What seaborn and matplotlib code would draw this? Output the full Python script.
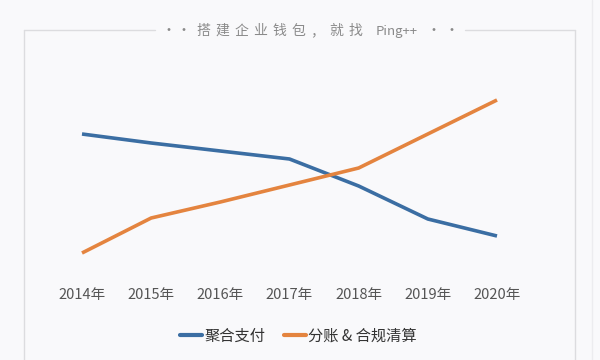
import matplotlib
matplotlib.use("Agg")
import matplotlib.pyplot as plt
import seaborn as sns
import pandas as pd
from matplotlib.lines import Line2D

# data (arbitrary units, axis hidden)
years = ["2014年", "2015年", "2016年", "2017年", "2018年", "2019年", "2020年"]
juhe = [126, 117, 109, 101, 74, 41, 24]
fenzhang = [7, 42, 58, 75, 92, 126, 160]
series_names = ["聚合支付", "分账 & 合规清算"]
colors = ["#3b6ea3", "#e4843f"]
title_parts = ["·", "·", "搭", "建", "企", "业", "钱", "包", "，", "就", "找", "Ping++", "·", "·"]

sns.set_theme(style="white")
plt.rcParams['font.family'] = ['Noto Sans CJK SC', 'DejaVu Sans']

df = pd.DataFrame({
    "year": years * 2,
    "value": juhe + fenzhang,
    "series": [series_names[0]] * len(years) + [series_names[1]] * len(years),
})
df["x"] = list(range(len(years))) * 2

bg = "#f9f9fb"
fig = plt.figure(figsize=(6, 3.6), dpi=100, facecolor=bg)
ax = fig.add_axes([82 / 600, 80 / 360, (497 - 82) / 600, 220 / 360])
ax.set_facecolor(bg)

sns.lineplot(data=df, x="x", y="value", hue="series", palette=colors,
             linewidth=2.6, ax=ax, legend=False, clip_on=False)
for l in ax.lines:
    l.set_solid_capstyle("butt")

ax.set_xlim(0, len(years) - 1)
ax.set_ylim(-20, 200)
ax.set_xticks(range(len(years)))
ax.set_xticklabels(years, fontsize=10.5, color="#555555")
ax.tick_params(axis="x", length=0, pad=6)
ax.set_yticks([])
ax.set_xlabel("")
ax.set_ylabel("")
sns.despine(ax=ax, left=True, bottom=True)

handles = [Line2D([0], [0], color=c, lw=3) for c in colors]
fig.legend(handles, series_names, loc="center", bbox_to_anchor=(0.497, 1 - 336 / 360),
           ncol=2, frameon=False, fontsize=11, handlelength=1.45,
           handletextpad=0.15, columnspacing=1.2, labelcolor="#333333")

# frame around the card
fc = "#dcdcdf"
fig.add_artist(Line2D([24 / 600, 155 / 600], [1 - 30 / 360] * 2, color=fc, lw=1))
fig.add_artist(Line2D([465 / 600, 575 / 600], [1 - 30 / 360] * 2, color=fc, lw=1))
fig.add_artist(Line2D([24 / 600] * 2, [0, 1 - 30 / 360], color=fc, lw=1))
fig.add_artist(Line2D([575 / 600] * 2, [0, 1 - 30 / 360], color=fc, lw=1))
fig.add_artist(Line2D([592 / 600] * 2, [0, 1], color="#ececef", lw=1))

# letter-spaced title, one piece at a time
title_x = [168, 184, 203, 222, 241, 260, 279, 298, 317, 336, 355, 397, 433, 452]
for px, s in zip(title_x, title_parts):
    fig.text(px / 600, 1 - 31 / 360, s, ha="center", va="center",
             fontsize=10 if s != "Ping++" else 9.5, color="#8a8a8a")

fig.savefig("out.png", dpi=100, facecolor=bg)
